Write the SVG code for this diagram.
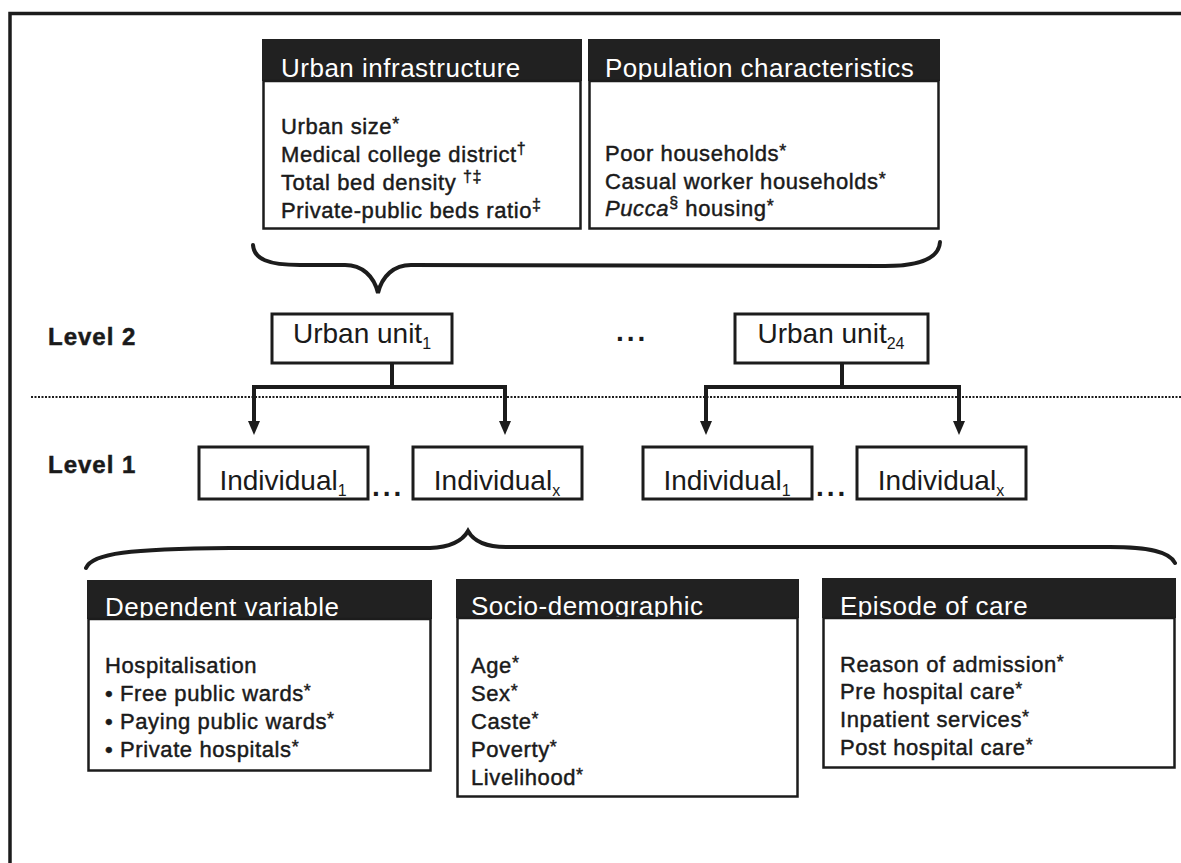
<svg xmlns="http://www.w3.org/2000/svg" width="1181" height="863" viewBox="0 0 1181 863">
  <defs>
    <style>
      .frame{stroke:#1c1c1c;stroke-width:3.5;fill:none}
      .hdr{fill:#212121}
      .body{fill:#fff;stroke:#1c1c1c;stroke-width:2.5}
      .htxt{font-family:"Liberation Sans",Arial,sans-serif;font-size:26px;fill:#fff;letter-spacing:0.5px}
      .btxt{font-family:"Liberation Sans",Arial,sans-serif;font-size:22px;fill:#1a1a1a;stroke:#1a1a1a;stroke-width:0.45px;letter-spacing:0.6px}
      .sup{font-size:16px}
      .ast{font-size:18px}
      .unit{fill:#fff;stroke:#1c1c1c;stroke-width:3}
      .utxt{font-family:"Liberation Sans",Arial,sans-serif;font-size:28px;fill:#1a1a1a;text-anchor:middle}
      .sub{font-size:16px}
      .lvl{font-family:"Liberation Sans",Arial,sans-serif;font-size:24px;font-weight:bold;fill:#1a1a1a;stroke:#1a1a1a;stroke-width:0.5px;letter-spacing:1px}
      .dots{font-family:"Liberation Sans",Arial,sans-serif;font-size:28px;font-weight:bold;fill:#1a1a1a;letter-spacing:3px}
      .brace{fill:none;stroke:#1c1c1c;stroke-width:4;stroke-linecap:round}
      .conn{fill:none;stroke:#1c1c1c;stroke-width:4}
      .sep{stroke:#1c1c1c;stroke-width:2;stroke-dasharray:2 1.5}
    </style>
    <marker id="arrow" viewBox="0 -6 14 12" refX="4" refY="0" markerWidth="14" markerHeight="12" markerUnits="userSpaceOnUse" orient="auto">
      <path d="M0,-6 L14,0 L0,6 Z" fill="#1c1c1c"/>
    </marker>
  </defs>

  <rect width="1181" height="863" fill="#fff"/>

  <!-- outer frame: top and left edges only -->
  <path class="frame" d="M10,863 V13.5 H1181"/>

  <!-- level separator -->
  <line class="sep" x1="31" y1="397" x2="1181" y2="397"/>

  <!-- level labels -->
  <text class="lvl" x="48" y="345">Level 2</text>
  <text class="lvl" x="48" y="473">Level 1</text>

  <!-- level-2 context boxes -->
  <g id="urban-infrastructure">
    <rect class="hdr" x="262" y="39" width="320" height="42"/>
    <text class="htxt" x="281" y="77">Urban infrastructure</text>
    <rect class="body" x="263.5" y="81" width="317" height="147.5"/>
    <text class="btxt" x="281" y="134">Urban size<tspan class="ast" dy="-4">*</tspan></text>
    <text class="btxt" x="281" y="162">Medical college district<tspan class="sup" dy="-8">†</tspan></text>
    <text class="btxt" x="281" y="190">Total bed density <tspan class="sup" dy="-8">†‡</tspan></text>
    <text class="btxt" x="281" y="218">Private-public beds ratio<tspan class="sup" dy="-8">‡</tspan></text>
  </g>

  <g id="population-characteristics">
    <rect class="hdr" x="588" y="39" width="352" height="42"/>
    <text class="htxt" x="605" y="77">Population characteristics</text>
    <rect class="body" x="589.5" y="81" width="349" height="147.5"/>
    <text class="btxt" x="605" y="161">Poor households<tspan class="ast" dy="-4">*</tspan></text>
    <text class="btxt" x="605" y="189">Casual worker households<tspan class="ast" dy="-4">*</tspan></text>
    <text class="btxt" x="605" y="216"><tspan font-style="italic">Pucca</tspan><tspan class="sup" dy="-8">§</tspan><tspan dy="8"> housing</tspan><tspan class="ast" dy="-4">*</tspan></text>
  </g>

  <!-- braces -->
  <g id="braces">
    <path class="brace" d="M253,245 C254,259 268,265 300,265 L345,265 C362,265 374,276 378,293 C382,276 394,265 411,265 L885,266 C922,266 939,258 940,242"/>
    <path class="brace" d="M86,568 C92,553 130,549 230,548 L430,548 C452,547 463,540 468,531 C473,540 484,547 506,547 L1110,547 C1150,547 1170,552 1175,563"/>
  </g>

  <!-- level-2 units -->
  <g id="urban-unit-1">
    <rect class="unit" x="272" y="314" width="180" height="49"/>
    <text class="utxt" x="362" y="343">Urban unit<tspan class="sub" dy="6">1</tspan></text>
  </g>
  <text class="dots" x="616" y="341">...</text>
  <g id="urban-unit-24">
    <rect class="unit" x="735" y="314" width="193" height="49"/>
    <text class="utxt" x="831" y="343">Urban unit<tspan class="sub" dy="6">24</tspan></text>
  </g>

  <!-- level-1 individuals -->
  <g id="individual-1a">
    <rect class="unit" x="199" y="447" width="169" height="52"/>
    <text class="utxt" x="283" y="490">Individual<tspan class="sub" dy="6">1</tspan></text>
  </g>
  <text class="dots" x="372" y="496">...</text>
  <g id="individual-xa">
    <rect class="unit" x="413" y="447" width="169" height="52"/>
    <text class="utxt" x="497" y="490">Individual<tspan class="sub" dy="6">x</tspan></text>
  </g>
  <g id="individual-1b">
    <rect class="unit" x="643" y="447" width="169" height="52"/>
    <text class="utxt" x="727" y="490">Individual<tspan class="sub" dy="6">1</tspan></text>
  </g>
  <text class="dots" x="816" y="496">...</text>
  <g id="individual-xb">
    <rect class="unit" x="857" y="447" width="169" height="52"/>
    <text class="utxt" x="941" y="490">Individual<tspan class="sub" dy="6">x</tspan></text>
  </g>

  <!-- connectors -->
  <g id="connectors">
    <path class="conn" d="M392,363 V387"/>
    <path class="conn" d="M254,387 H505" stroke-linecap="square"/>
    <path class="conn" d="M254,387 V425" marker-end="url(#arrow)"/>
    <path class="conn" d="M505,387 V425" marker-end="url(#arrow)"/>
    <path class="conn" d="M842,363 V387"/>
    <path class="conn" d="M706,387 H959" stroke-linecap="square"/>
    <path class="conn" d="M706,387 V425" marker-end="url(#arrow)"/>
    <path class="conn" d="M959,387 V425" marker-end="url(#arrow)"/>
  </g>

  <!-- level-1 variable boxes -->
  <g id="dependent-variable">
    <rect class="hdr" x="87" y="580" width="345" height="39"/>
    <text class="htxt" x="105" y="616">Dependent variable</text>
    <rect class="body" x="88.5" y="619" width="342" height="151.5"/>
    <text class="btxt" x="105" y="673">Hospitalisation</text>
    <text class="btxt" x="105" y="701">• Free public wards<tspan class="ast" dy="-4">*</tspan></text>
    <text class="btxt" x="105" y="729">• Paying public wards<tspan class="ast" dy="-4">*</tspan></text>
    <text class="btxt" x="105" y="757">• Private hospitals<tspan class="ast" dy="-4">*</tspan></text>
  </g>

  <g id="socio-demographic">
    <rect class="hdr" x="456" y="579" width="343" height="39"/>
    <text class="htxt" x="471" y="615">Socio-demographic</text>
    <rect class="body" x="457.5" y="618" width="340" height="178.5"/>
    <text class="btxt" x="471" y="673">Age<tspan class="ast" dy="-4">*</tspan></text>
    <text class="btxt" x="471" y="701">Sex<tspan class="ast" dy="-4">*</tspan></text>
    <text class="btxt" x="471" y="729">Caste<tspan class="ast" dy="-4">*</tspan></text>
    <text class="btxt" x="471" y="757">Poverty<tspan class="ast" dy="-4">*</tspan></text>
    <text class="btxt" x="471" y="785">Livelihood<tspan class="ast" dy="-4">*</tspan></text>
  </g>

  <g id="episode-of-care">
    <rect class="hdr" x="822" y="578" width="354" height="40"/>
    <text class="htxt" x="840" y="615">Episode of care</text>
    <rect class="body" x="823.5" y="618" width="351" height="149.5"/>
    <text class="btxt" x="840" y="672">Reason of admission<tspan class="ast" dy="-4">*</tspan></text>
    <text class="btxt" x="840" y="699">Pre hospital care<tspan class="ast" dy="-4">*</tspan></text>
    <text class="btxt" x="840" y="727">Inpatient services<tspan class="ast" dy="-4">*</tspan></text>
    <text class="btxt" x="840" y="755">Post hospital care<tspan class="ast" dy="-4">*</tspan></text>
  </g>
</svg>
